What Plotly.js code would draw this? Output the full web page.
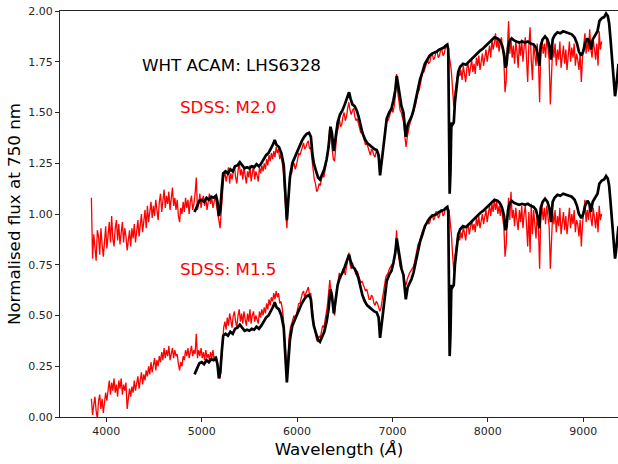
<!DOCTYPE html>
<html>
<head>
<meta charset="utf-8">
<script src="https://cdn.plot.ly/plotly-3.0.1.min.js"></script>
<style>html,body{margin:0;padding:0;background:#fff;}#chart{width:618px;height:464px;}</style>
</head>
<body>
<div id="chart"></div>
<script>
// WHT ACAM spectrum of LHS6328 (normalised at 750 nm)
const whtWave = [4925,4950,4975,5000,5025,5050,5075,5100,5125,5150,5165,5180,5195,5210,5225,5250,5275,5300,5325,5350,5375,5400,5425,5450,5475,5500,5525,5550,5575,5600,5625,5650,5675,5700,5725,5750,5765,5785,5810,5835,5860,5880,5893,5905,5925,5950,5975,6000,6025,6050,6075,6100,6125,6145,6160,6175,6200,6220,6240,6260,6285,6310,6330,6350,6365,6385,6400,6425,6450,6475,6500,6525,6545,6560,6580,6605,6625,6645,6665,6685,6710,6735,6760,6785,6810,6835,6855,6870,6885,6900,6920,6940,6965,6990,7010,7030,7045,7060,7075,7095,7115,7130,7140,7160,7180,7200,7220,7240,7265,7290,7315,7340,7365,7390,7415,7440,7465,7490,7515,7540,7560,7575,7585,7593,7600,7608,7618,7630,7643,7655,7670,7690,7710,7740,7770,7800,7830,7860,7890,7920,7950,7980,8010,8040,8070,8100,8125,8150,8170,8185,8197,8212,8230,8250,8275,8300,8330,8360,8390,8420,8450,8480,8505,8525,8540,8555,8575,8600,8625,8645,8662,8680,8700,8730,8760,8790,8820,8850,8880,8910,8935,8955,8980,9000,9020,9045,9065,9080,9100,9125,9150,9170,9195,9220,9240,9258,9272,9285,9298,9310,9322,9334,9345,9358,9370];
const whtFlux = [0.21,0.24,0.265,0.27,0.26,0.28,0.27,0.285,0.28,0.29,0.26,0.19,0.22,0.32,0.40,0.41,0.40,0.42,0.41,0.435,0.44,0.455,0.44,0.425,0.43,0.425,0.435,0.43,0.445,0.435,0.45,0.47,0.49,0.50,0.52,0.545,0.565,0.54,0.53,0.50,0.44,0.30,0.17,0.25,0.38,0.45,0.48,0.51,0.54,0.56,0.58,0.595,0.60,0.58,0.50,0.45,0.41,0.38,0.37,0.39,0.42,0.47,0.53,0.63,0.60,0.51,0.56,0.65,0.69,0.71,0.74,0.78,0.80,0.77,0.74,0.73,0.71,0.68,0.64,0.60,0.57,0.55,0.54,0.53,0.52,0.515,0.49,0.39,0.45,0.50,0.60,0.67,0.70,0.72,0.76,0.81,0.88,0.83,0.77,0.73,0.70,0.60,0.58,0.64,0.66,0.68,0.71,0.76,0.82,0.865,0.90,0.94,0.96,0.98,0.99,0.995,1.00,1.01,1.015,1.02,1.03,1.035,1.01,0.60,0.30,0.40,0.65,0.64,0.65,0.75,0.83,0.90,0.925,0.94,0.935,0.95,0.965,0.98,0.99,1.005,1.015,1.03,1.045,1.06,1.07,1.065,1.055,1.03,0.99,0.92,0.94,1.02,1.055,1.065,1.055,1.05,1.045,1.05,1.045,1.05,1.04,1.035,1.02,0.98,0.93,1.03,1.06,1.075,1.06,1.03,0.96,1.06,1.08,1.095,1.09,1.10,1.095,1.09,1.085,1.07,1.04,1.00,0.98,1.00,1.04,1.065,1.05,1.01,1.06,1.08,1.10,1.15,1.165,1.17,1.187,1.175,1.14,1.07,0.99,0.90,0.84,0.78,0.82,0.90,0.94];

// SDSS template spectra (normalised at 750 nm)
const sdssWave = [
3843,3855.5,3868,3880.5,3893,3905.5,3918,3930.5,
3943,3955.5,3968,3980.5,3993,4005.5,4018,4030.5,
4043,4055.5,4068,4080.5,4093,4105.5,4118,4130.5,
4143,4155.5,4168,4180.5,4193,4205.5,4218,4230.5,
4243,4255.5,4268,4280.5,4293,4305.5,4318,4330.5,
4343,4355.5,4368,4380.5,4393,4405.5,4418,4430.5,
4443,4455.5,4468,4480.5,4493,4505.5,4518,4530.5,
4543,4555.5,4568,4580.5,4593,4605.5,4618,4630.5,
4643,4655.5,4668,4680.5,4693,4705.5,4718,4730.5,
4743,4755.5,4768,4780.5,4793,4805.5,4818,4830.5,
4843,4855.5,4868,4880.5,4893,4905.5,4918,4930.5,
4943,4955.5,4968,4980.5,4993,5005.5,5018,5030.5,
5043,5055.5,5068,5080.5,5093,5105.5,5118,5130.5,
5143,5155.5,5168,5180.5,5193,5205.5,5218,5230.5,
5243,5255.5,5268,5280.5,5293,5305.5,5318,5330.5,
5343,5355.5,5368,5380.5,5393,5405.5,5418,5430.5,
5443,5455.5,5468,5480.5,5493,5505.5,5518,5530.5,
5543,5555.5,5568,5580.5,5593,5605.5,5618,5630.5,
5643,5655.5,5668,5680.5,5693,5705.5,5718,5730.5,
5743,5755.5,5768,5780.5,5793,5805.5,5818,5830.5,
5843,5855.5,5868,5880.5,5893,5905.5,5918,5930.5,
5943,5955.5,5968,5980.5,5993,6005.5,6018,6030.5,
6043,6055.5,6068,6080.5,6093,6105.5,6118,6130.5,
6143,6155.5,6168,6180.5,6193,6205.5,6218,6230.5,
6243,6255.5,6268,6280.5,6293,6305.5,6318,6330.5,
6343,6355.5,6368,6380.5,6393,6405.5,6418,6430.5,
6443,6455.5,6468,6480.5,6493,6505.5,6518,6530.5,
6543,6555.5,6568,6580.5,6593,6605.5,6618,6630.5,
6643,6655.5,6668,6680.5,6693,6705.5,6718,6730.5,
6743,6755.5,6768,6780.5,6793,6805.5,6818,6830.5,
6843,6855.5,6868,6880.5,6893,6905.5,6918,6930.5,
6943,6955.5,6968,6980.5,6993,7005.5,7018,7030.5,
7043,7055.5,7068,7080.5,7093,7105.5,7118,7130.5,
7143,7155.5,7168,7180.5,7193,7205.5,7218,7230.5,
7243,7255.5,7268,7280.5,7293,7305.5,7318,7330.5,
7343,7355.5,7368,7380.5,7393,7405.5,7418,7430.5,
7443,7455.5,7468,7480.5,7493,7505.5,7518,7530.5,
7543,7555.5,7568,7580.5,7593,7605.5,7618,7630.5,
7643,7655.5,7668,7680.5,7693,7705.5,7718,7730.5,
7743,7755.5,7768,7780.5,7793,7805.5,7818,7830.5,
7843,7855.5,7868,7880.5,7893,7905.5,7918,7930.5,
7943,7955.5,7968,7980.5,7993,8005.5,8018,8030.5,
8043,8055.5,8068,8080.5,8093,8105.5,8118,8130.5,
8143,8155.5,8168,8180.5,8193,8205.5,8218,8230.5,
8243,8255.5,8268,8280.5,8293,8305.5,8318,8330.5,
8343,8355.5,8368,8380.5,8393,8405.5,8418,8430.5,
8443,8455.5,8468,8480.5,8493,8505.5,8518,8530.5,
8543,8555.5,8568,8580.5,8593,8605.5,8618,8630.5,
8643,8655.5,8668,8680.5,8693,8705.5,8718,8730.5,
8743,8755.5,8768,8780.5,8793,8805.5,8818,8830.5,
8843,8855.5,8868,8880.5,8893,8905.5,8918,8930.5,
8943,8955.5,8968,8980.5,8993,9005.5,9018,9030.5,
9043,9055.5,9068,9080.5,9093,9105.5,9118,9130.5,
9143,9155.5,9168,9180.5,9193];

const sdssM20 = [
0.28,-0.02,0.10,0.04,-0.03,0.12,0.09,0.00,
0.13,0.05,-0.01,0.06,0.14,0.03,0.12,0.16,
0.06,0.19,0.08,0.04,0.13,0.17,0.07,0.15,
0.05,0.11,0.16,0.06,0.13,0.09,0.02,0.07,
0.12,0.04,0.13,0.08,0.15,0.06,0.11,0.17,
0.09,0.14,0.20,0.11,0.17,0.22,0.13,0.24,
0.16,0.21,0.26,0.18,0.24,0.19,0.27,0.22,
0.17,0.26,0.30,0.21,0.27,0.32,0.23,0.29,
0.25,0.31,0.22,0.27,0.33,0.24,0.28,0.22,
0.27,0.19,0.16,0.23,0.20,0.26,0.21,0.28,
0.23,0.27,0.20,0.26,0.29,0.22,0.25,0.30,
0.38,0.22,0.25,0.30,0.23,0.27,0.29,0.24,
0.28,0.22,0.27,0.30,0.25,0.28,0.23,0.27,
0.29,0.24,0.20,0.16,0.13,0.22,0.33,0.38,
0.41,0.36,0.39,0.43,0.35,0.40,0.37,0.42,
0.44,0.38,0.35,0.41,0.46,0.39,0.42,0.37,
0.43,0.39,0.35,0.41,0.38,0.44,0.36,0.40,
0.44,0.37,0.41,0.39,0.36,0.43,0.40,0.44,
0.41,0.45,0.42,0.47,0.44,0.49,0.46,0.50,
0.47,0.51,0.48,0.53,0.50,0.52,0.47,0.49,
0.46,0.41,0.33,0.22,0.13,0.25,0.36,0.41,
0.40,0.44,0.45,0.42,0.44,0.48,0.50,0.49,
0.51,0.54,0.55,0.52,0.53,0.55,0.56,0.52,
0.53,0.47,0.41,0.37,0.35,0.31,0.32,0.35,
0.34,0.37,0.40,0.38,0.43,0.45,0.48,0.55,
0.63,0.57,0.52,0.47,0.46,0.53,0.60,0.62,
0.67,0.63,0.64,0.68,0.70,0.66,0.68,0.72,
0.75,0.71,0.69,0.71,0.72,0.68,0.66,0.67,
0.65,0.62,0.60,0.61,0.59,0.56,0.54,0.55,
0.53,0.50,0.49,0.52,0.51,0.49,0.48,0.51,
0.50,0.47,0.40,0.44,0.47,0.54,0.60,0.64,
0.67,0.66,0.68,0.70,0.72,0.70,0.73,0.78,
0.89,0.80,0.74,0.71,0.70,0.67,0.65,0.58,
0.53,0.58,0.62,0.64,0.66,0.68,0.70,0.71,
0.74,0.77,0.80,0.81,0.84,0.87,0.90,0.90,
0.92,0.95,0.96,0.94,0.95,0.98,0.99,0.96,
0.97,1.00,1.00,0.97,0.98,1.01,1.01,0.98,
0.99,1.02,1.03,1.01,0.98,0.95,0.90,0.82,
0.73,0.80,0.85,0.88,0.90,0.88,0.91,0.86,
0.93,0.89,0.85,0.92,0.94,0.88,0.93,0.96,
0.90,0.94,0.89,0.97,0.93,0.98,0.91,0.96,
0.99,0.93,0.97,1.01,0.95,1.00,1.03,0.97,
1.06,1.01,1.04,1.09,1.02,1.06,1.00,1.05,
1.07,1.01,0.96,0.80,0.86,1.02,1.15,0.99,
1.06,0.97,1.03,0.94,1.05,1.00,0.92,1.04,
0.98,1.06,0.95,1.02,1.07,0.97,0.85,1.03,
1.12,0.96,0.86,1.04,0.99,0.93,1.04,0.96,
0.75,1.01,1.06,0.99,1.04,0.97,1.07,1.00,
0.96,0.74,0.95,1.03,0.97,1.04,0.93,1.01,
0.96,1.05,0.92,0.99,1.03,0.94,1.01,0.91,
1.00,1.05,0.95,1.02,0.97,1.04,0.93,0.99,
0.96,0.91,0.99,0.85,0.97,1.03,1.09,0.99,
1.05,1.00,1.11,1.01,0.97,1.06,1.02,0.96,
1.04,0.93,1.10,1.01,1.05];

const sdssM15 = [
0.09,0.01,0.06,0.10,0.03,-0.01,0.08,0.11,
0.04,0.09,0.02,0.07,0.12,0.08,0.15,0.18,
0.11,0.17,0.13,0.19,0.12,0.16,0.10,0.18,
0.14,0.19,0.11,0.16,0.13,0.17,0.04,0.09,
0.14,0.10,0.15,0.12,0.18,0.13,0.16,0.20,
0.14,0.19,0.22,0.16,0.21,0.18,0.23,0.20,
0.25,0.21,0.27,0.22,0.26,0.29,0.23,0.28,
0.25,0.30,0.27,0.32,0.28,0.34,0.29,0.33,
0.30,0.35,0.28,0.32,0.34,0.29,0.33,0.30,
0.31,0.26,0.23,0.27,0.25,0.30,0.28,0.33,
0.30,0.34,0.29,0.32,0.35,0.30,0.33,0.31,
0.41,0.29,0.33,0.30,0.34,0.29,0.32,0.28,
0.33,0.29,0.31,0.28,0.32,0.29,0.33,0.28,
0.30,0.27,0.25,0.21,0.19,0.27,0.38,0.44,
0.47,0.43,0.49,0.45,0.51,0.46,0.44,0.50,
0.52,0.47,0.44,0.50,0.53,0.47,0.51,0.46,
0.52,0.48,0.45,0.51,0.47,0.53,0.46,0.50,
0.52,0.47,0.50,0.48,0.46,0.52,0.49,0.53,
0.50,0.54,0.51,0.56,0.53,0.58,0.55,0.59,
0.57,0.61,0.58,0.62,0.59,0.61,0.56,0.57,
0.54,0.49,0.42,0.31,0.22,0.32,0.40,0.44,
0.46,0.49,0.50,0.48,0.51,0.54,0.56,0.56,
0.59,0.61,0.62,0.59,0.61,0.63,0.64,0.60,
0.61,0.55,0.48,0.44,0.41,0.38,0.37,0.40,
0.39,0.42,0.45,0.44,0.49,0.51,0.55,0.60,
0.675,0.61,0.57,0.52,0.50,0.57,0.64,0.67,
0.71,0.68,0.70,0.73,0.72,0.70,0.74,0.77,
0.81,0.75,0.73,0.76,0.74,0.71,0.70,0.72,
0.70,0.67,0.66,0.67,0.65,0.63,0.62,0.63,
0.61,0.58,0.58,0.60,0.59,0.56,0.55,0.57,
0.56,0.54,0.52,0.54,0.58,0.62,0.66,0.69,
0.70,0.71,0.73,0.74,0.75,0.74,0.77,0.82,
0.92,0.82,0.77,0.74,0.73,0.71,0.70,0.66,
0.65,0.68,0.70,0.71,0.72,0.73,0.74,0.76,
0.80,0.82,0.85,0.86,0.88,0.90,0.92,0.92,
0.94,0.96,0.97,0.95,0.96,0.99,1.00,0.97,
0.98,1.01,1.01,0.98,0.99,1.02,1.02,0.99,
1.00,1.03,1.03,1.02,1.02,0.96,0.90,0.80,
0.72,0.79,0.84,0.88,0.90,0.87,0.91,0.88,
0.94,0.90,0.87,0.93,0.95,0.90,0.94,0.97,
0.92,0.95,0.91,0.98,0.94,0.99,0.93,0.97,
1.00,0.95,0.98,1.02,0.96,1.00,1.04,0.99,
1.05,1.01,1.07,1.02,1.06,1.00,1.04,0.99,
1.05,0.98,0.94,0.79,0.85,0.99,1.08,0.97,
1.11,0.98,1.02,0.94,1.03,0.97,0.92,1.02,
0.96,1.04,0.93,1.00,1.04,0.95,0.84,1.01,
0.81,1.05,0.90,1.02,0.95,0.88,1.01,0.94,
0.73,0.99,1.04,0.97,1.03,0.95,1.04,0.98,
0.94,0.73,0.92,1.01,0.95,1.02,0.91,0.99,
0.94,1.03,0.90,0.98,1.01,0.92,0.99,0.90,
0.98,1.03,0.93,1.00,0.95,1.02,0.91,0.97,
0.95,0.89,0.97,0.84,0.95,1.01,1.07,0.96,
1.02,0.97,1.05,0.98,0.94,1.03,0.99,0.93,
1.01,0.91,1.04,0.97,1.00];

const upperOffset = 0.8;
const labels = {wht: 'WHT ACAM: LHS6328', m20: 'SDSS: M2.0', m15: 'SDSS: M1.5'};
const xTicks = [4000,5000,6000,7000,8000,9000];
const yTicks = [0,0.25,0.5,0.75,1.0,1.25,1.5,1.75,2.0];

const shift = (arr, d) => arr.map(v => v + d);

const redLine = {color: '#ff0000', width: 1.3};
const blackLine = {color: '#000000', width: 2.7};

const traces = [
  {x: sdssWave, y: shift(sdssM20, upperOffset), type: 'scatter', mode: 'lines', line: redLine, hoverinfo: 'skip'},
  {x: whtWave, y: shift(whtFlux, upperOffset), type: 'scatter', mode: 'lines', line: blackLine, hoverinfo: 'skip'},
  {x: sdssWave, y: sdssM15, type: 'scatter', mode: 'lines', line: redLine, hoverinfo: 'skip'},
  {x: whtWave, y: whtFlux, type: 'scatter', mode: 'lines', line: blackLine, hoverinfo: 'skip'}
];

const FONT = 'DejaVu Sans, sans-serif';
const layout = {
  width: 618, height: 464,
  margin: {l: 60, r: 0, t: 11, b: 47, pad: 0},
  paper_bgcolor: '#ffffff', plot_bgcolor: '#ffffff',
  showlegend: false,
  font: {family: FONT, size: 11, color: '#262626'},
  xaxis: {
    range: [3514, 9365], showgrid: false, zeroline: false,
    showline: true, linecolor: '#262626', linewidth: 1, mirror: true,
    ticks: 'outside', ticklen: 4, tickwidth: 1, tickcolor: '#262626',
    tickvals: xTicks, ticktext: xTicks.map(String),
    tickfont: {family: FONT, size: 11, color: '#262626'},
    title: {text: 'Wavelength (<i>Å</i>)', font: {family: FONT, size: 16.7, color: '#000'}, standoff: 6}
  },
  yaxis: {
    range: [0, 2], showgrid: false, zeroline: false,
    showline: true, linecolor: '#262626', linewidth: 1,
    ticks: 'outside', ticklen: 4, tickwidth: 1, tickcolor: '#262626',
    tickvals: yTicks, ticktext: yTicks.map(v => v.toFixed(2)),
    tickfont: {family: FONT, size: 11, color: '#262626'},
    title: {text: 'Normalised flux at 750 nm', font: {family: FONT, size: 16.7, color: '#000'}, standoff: 3}
  },
  annotations: [
    {x: 4352, y: 1.732, xref: 'x', yref: 'y', text: labels.wht, showarrow: false, xanchor: 'left', yanchor: 'middle', font: {family: FONT, size: 16.7, color: '#000000'}},
    {x: 4755, y: 1.527, xref: 'x', yref: 'y', text: labels.m20, showarrow: false, xanchor: 'left', yanchor: 'middle', font: {family: FONT, size: 16.7, color: '#ff0000'}},
    {x: 4755, y: 0.727, xref: 'x', yref: 'y', text: labels.m15, showarrow: false, xanchor: 'left', yanchor: 'middle', font: {family: FONT, size: 16.7, color: '#ff0000'}}
  ]
};

Plotly.newPlot('chart', traces, layout, {staticPlot: true, displayModeBar: false});
</script>
</body>
</html>
